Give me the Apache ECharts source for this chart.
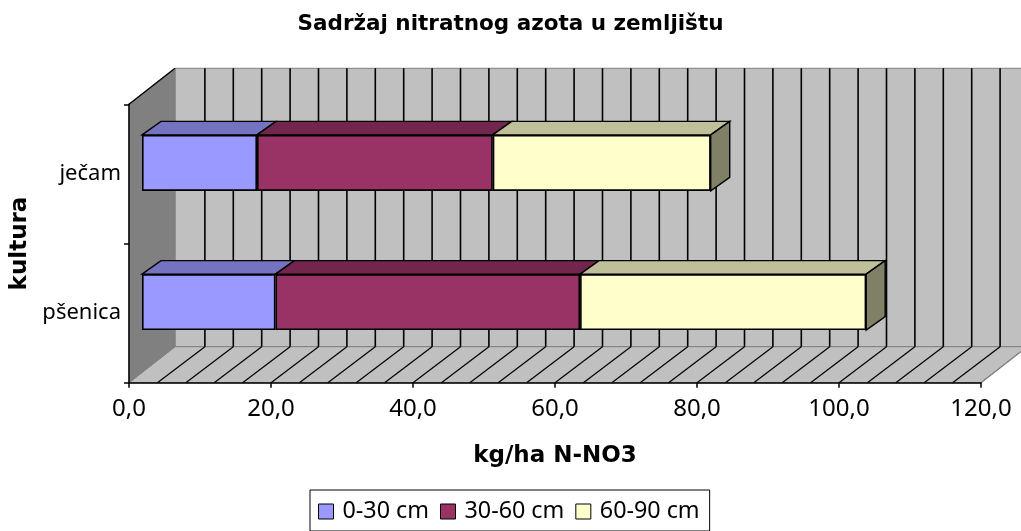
<!DOCTYPE html>
<html><head><meta charset="utf-8">
<style>html,body{margin:0;padding:0;background:#fff}#c{width:1021px;height:531px}</style>
<script src="https://cdn.jsdelivr.net/npm/echarts@6/dist/echarts.min.js"></script>
</head><body><div id="c"></div>
<script>
const categories = ['pšenica', 'ječam'];
const seriesNames = ['0-30 cm', '30-60 cm', '60-90 cm'];
const s0_30 = [18.8, 16.2];
const s30_60 = [42.9, 33.2];
const s60_90 = [40.3, 30.7];
const xTickStep = 20;
const wallLineValues = [4,8,12,16,20,24,28,32,36,40,44,48,52,56,60,64,68,72,76,80,84,88,92,96,100,104,108,112,116];

const values = [s0_30, s30_60, s60_90];
const FRONT = ['#9999FF', '#993366', '#FFFFCC'];
const TOP = ['#7373BF', '#73264D', '#BFBF99'];
const SIDE = ['#4D4D80', '#4D1A33', '#808066'];
const FONT = 'Noto Sans';
const BOLD = 'DejaVu Sans';
const WALL_DX = 46, WALL_DY = -36;
const BAR_DX = 19, BAR_DY = -13.5;
const G = {left: 129, top: 104.3, width: 852, height: 278.4};
const OFF = {x: 13, y: -11};

const chart = echarts.init(document.getElementById('c'), null, {renderer: 'canvas'});

function poly(points, fill, stroke, lw) {
  return {type: 'polygon', shape: {points}, style: {fill, stroke, lineWidth: lw}};
}
function line(x1, y1, x2, y2, stroke, lw) {
  return {type: 'line', shape: {x1, y1, x2, y2}, style: {stroke, lineWidth: lw}};
}

const shell = {
  type: 'custom', xAxisIndex: 0, yAxisIndex: 0, z: 1, silent: true, data: [0],
  renderItem(params, api) {
    const c = params.coordSys;
    const l = c.x, r = c.x + c.width, t = c.y, b = c.y + c.height;
    return {type: 'group', children: [
      poly([[l + WALL_DX, t + WALL_DY], [r + WALL_DX, t + WALL_DY], [r + WALL_DX, b + WALL_DY], [l + WALL_DX, b + WALL_DY]], '#C0C0C0', '#808080', 1),
      poly([[l, b], [l + WALL_DX, b + WALL_DY], [r + WALL_DX, b + WALL_DY], [r, b]], '#C0C0C0', '#808080', 1),
      poly([[l, t], [l + WALL_DX, t + WALL_DY], [l + WALL_DX, b + WALL_DY], [l, b]], '#808080', '#808080', 1),
      line(l, t, l + WALL_DX, t + WALL_DY, '#000', 1.4),
      line(r, b, r + WALL_DX, b + WALL_DY, '#808080', 1.2)
    ]};
  }
};
const wallLines = {
  type: 'custom', xAxisIndex: 0, yAxisIndex: 0, z: 2, silent: true, data: wallLineValues.map(v => [v]),
  encode: {x: 0},
  renderItem(params, api) {
    const c = params.coordSys;
    const x = api.coord([api.value(0), 0])[0];
    const t = c.y, b = c.y + c.height;
    return {type: 'group', children: [
      line(x + WALL_DX + 1.5, t + WALL_DY, x + WALL_DX + 1.5, b + WALL_DY, '#000', 1.6),
      line(x, b, x + WALL_DX + 1.5, b + WALL_DY, '#000', 1.2)
    ]};
  }
};
const bars = values.map((arr, i) => ({
  type: 'bar', name: seriesNames[i], stack: 'total', xAxisIndex: 1, yAxisIndex: 1, z: 4,
  barWidth: 56, data: arr, silent: true,
  itemStyle: {color: FRONT[i], borderColor: '#000', borderWidth: 1.6}
}));
const faces = values.map((arr, i) => ({
  type: 'custom', xAxisIndex: 1, yAxisIndex: 1, z: 3, silent: true,
  data: arr.map((v, k) => {
    let s = 0; for (let j = 0; j < i; j++) s += values[j][k];
    return [s, s + v, k];
  }),
  encode: {x: [0, 1], y: 2},
  renderItem(params, api) {
    const a = api.coord([api.value(0), api.value(2)]);
    const b = api.coord([api.value(1), api.value(2)]);
    const h = 28;
    const kids = [poly([[a[0], a[1] - h], [a[0] + BAR_DX, a[1] - h + BAR_DY], [b[0] + BAR_DX, b[1] - h + BAR_DY], [b[0], b[1] - h]], TOP[i], '#000', 1.4)];
    if (i === values.length - 1) {
      kids.push(poly([[b[0], b[1] - h], [b[0] + BAR_DX, b[1] - h + BAR_DY], [b[0] + BAR_DX, b[1] + h + BAR_DY], [b[0], b[1] + h]], SIDE[i], '#000', 1.4));
    }
    return {type: 'group', children: kids};
  }
}));

chart.setOption({
  animation: false,
  backgroundColor: '#fff',
  title: {text: 'Sadržaj nitratnog azota u zemljištu', left: 'center', top: 8,
    textStyle: {fontFamily: BOLD, fontSize: 21.5, fontWeight: 'bold', color: '#000'}},
  legend: {
    left: 310, top: 490, padding: [10, 10, 8, 8], itemWidth: 15, itemHeight: 15, itemGap: 11,
    data: seriesNames, borderColor: '#000', borderWidth: 1, backgroundColor: '#fff',
    icon: 'rect', selectedMode: false,
    itemStyle: {borderColor: '#000', borderWidth: 1},
    textStyle: {fontFamily: FONT, fontSize: 23.3, color: '#000', padding: [0, 0, 0, 4]}
  },
  grid: [
    {left: G.left, top: G.top, width: G.width, height: G.height, outerBoundsMode: 'none'},
    {left: G.left + OFF.x, top: G.top + OFF.y, width: G.width, height: G.height, outerBoundsMode: 'none'}
  ],
  xAxis: [
    {type: 'value', gridIndex: 0, min: 0, max: 120, interval: xTickStep, z: 5,
      name: 'kg/ha N-NO3', nameLocation: 'middle', nameGap: 62,
      nameTextStyle: {fontFamily: BOLD, fontSize: 23, fontWeight: 'bold', color: '#000'},
      axisLine: {show: true, lineStyle: {color: '#000', width: 1.5}},
      axisTick: {show: true, length: 5, lineStyle: {color: '#000', width: 1.5}},
      axisLabel: {fontFamily: FONT, fontSize: 24, color: '#000', margin: 14, formatter: v => v.toFixed(1).replace('.', ',')},
      splitLine: {show: false}},
    {type: 'value', gridIndex: 1, min: 0, max: 120, interval: xTickStep, show: false, splitLine: {show: false}}
  ],
  yAxis: [
    {type: 'category', gridIndex: 0, data: categories, z: 5,
      name: 'kultura', nameLocation: 'middle', nameGap: 96,
      nameTextStyle: {fontFamily: BOLD, fontSize: 23, fontWeight: 'bold', color: '#000'},
      axisLine: {show: true, lineStyle: {color: '#000', width: 1.5}},
      axisTick: {show: true, length: 5, alignWithLabel: false, lineStyle: {color: '#000', width: 1.5}},
      axisLabel: {fontFamily: FONT, fontSize: 22, color: '#000', margin: 8, padding: [3, 0, 0, 0]},
      splitLine: {show: false}},
    {type: 'category', gridIndex: 1, data: categories, show: false}
  ],
  series: [shell, wallLines, ...faces, ...bars]
});
</script></body></html>
